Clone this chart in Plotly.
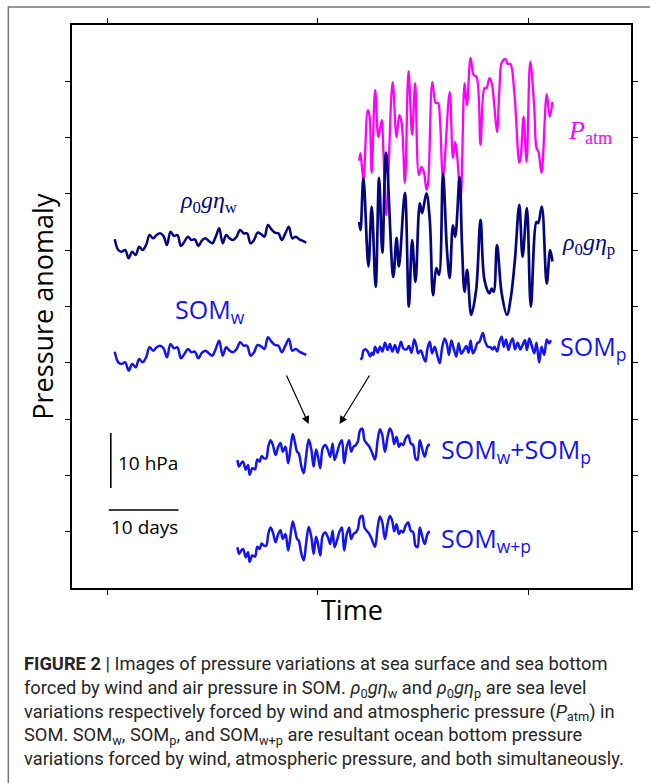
import numpy as np
import plotly.graph_objects as go

# ---------------- data (time in days, anomaly in hPa) ----------------
# rho0*g*eta_w  (uniform half-day sampling)
eta_w_vals = [0.12, -1.82, -2.12, -1.82, -3.33, -2.12, -2.73, -1.21, -1.82, -0.91,
              0.91, 0.30, 0.91, 1.21, 0.73, -0.91, 1.52, 0.73, 0.91, -1.09,
              -0.30, 0.61, 0.0, 0.12, -1.09, -0.12, 0.30, -0.18, -0.61, 0.61,
              2.12, -0.61, 0.91, 0.30, 0.0, 0.61, 1.82, 1.21, 1.21, -0.61,
              0.0, 1.33, 1.09, 0.61, 2.73, 1.94, 1.33, 1.21, 0.0, 1.21,
              2.42, 0.30, 0.61, 0.12, -0.18, -0.48]
som_w_vals = list(eta_w_vals)

patm_t = [0.00, 0.19, 0.61, 1.23, 1.47, 1.80, 2.29, 2.76, 3.23, 3.47,
          3.90, 4.80, 5.37, 5.76, 6.09, 6.57, 7.09, 7.61, 8.04, 8.57,
          8.94, 9.33, 9.66, 9.90, 10.51, 11.00, 11.33, 11.61, 12.04, 13.00,
          13.47, 13.80, 14.09, 14.57, 15.14, 15.47, 16.00, 16.43, 16.86, 17.43,
          18.00, 18.29, 18.71, 19.04, 19.43, 19.80, 20.14, 20.47, 21.00, 21.33,
          21.71, 22.29, 23.00, 23.23, 23.61, 24.04, 24.57, 25.14, 25.47, 25.76,
          26.19, 26.94, 27.37, 27.76]
patm_v = [-6.5, -5.1, -10.0, 2.7, 1.8, -8.7, 6.4, -2.2, 0.9, -4.5,
          -16.4, 7.8, -2.2, 1.8, 0.5, -10.5, 9.8, -1.8, 7.6, -9.1,
          -7.6, -8.7, -11.8, -10.5, 7.8, 4.0, 4.0, 0.9, -9.6, 6.0,
          -6.0, -3.1, -5.8, -13.6, 7.6, 3.6, 12.2, 9.1, 8.7, -3.6,
          6.7, 6.7, 8.5, 7.6, 3.3, -1.3, 6.4, 11.3, 12.0, 11.1,
          11.1, 5.8, -6.9, -5.5, 1.5, -6.7, 11.5, 3.3, -4.2, -4.9,
          -8.7, 5.6, 1.5, 4.2]

eta_p_t = [0.00, 0.19, 0.61, 1.33, 1.80, 2.37, 2.86, 3.33, 3.86, 4.90,
           5.37, 5.71, 6.57, 7.14, 7.61, 8.09, 8.71, 9.04, 9.66, 10.14,
           10.61, 11.09, 11.47, 12.04, 12.61, 13.00, 13.47, 13.80, 14.43, 14.76,
           15.14, 15.51, 16.09, 16.80, 17.43, 18.00, 18.71, 19.04, 19.33, 19.80,
           20.47, 21.23, 21.80, 22.37, 23.00, 23.47, 24.09, 24.66, 25.47, 25.71,
           26.23, 26.94, 27.43, 27.76]
eta_p_v = [5.1, 3.6, 13.1, -3.0, 7.9, -6.7, 13.1, -0.5, 17.7, -4.9,
           2.2, -3.0, 10.4, -10.3, 1.8, -5.8, 8.5, 6.7, 10.3, 5.5,
           -8.2, -3.3, -4.5, 13.9, 0.0, -5.1, 4.5, 2.4, 13.3, 1.2,
           -7.6, -3.6, -11.8, -7.3, 5.5, -5.5, -7.9, -7.0, -7.6, 0.9,
           -7.9, -11.8, -8.5, -1.8, 8.2, -1.2, 7.6, -10.3, 5.1, 4.9,
           7.9, -6.1, 0.0, -2.1]

som_p_t = [0, 0.24, 0.48, 0.81, 1.10, 1.43, 1.67, 1.90, 2.14, 2.52,
           2.86, 3.19, 3.57, 3.95, 4.29, 4.62, 5.00, 5.38, 5.86, 6.19,
           6.67, 7.00, 7.38, 7.76, 8.10, 8.33, 8.71, 9.05, 9.38, 9.67,
           10.00, 10.33, 10.71, 11.05, 11.43, 11.76, 12.14, 12.48, 12.76, 13.10,
           13.43, 13.81, 14.14, 14.52, 14.86, 15.24, 15.57, 15.86, 16.19, 16.52,
           16.81, 17.14, 17.62, 17.95, 18.33, 18.71, 19.05, 19.29, 19.67, 20.00,
           20.33, 20.62, 20.95, 21.29, 21.57, 21.90, 22.24, 22.62, 23.00, 23.33,
           23.67, 23.95, 24.29, 24.62, 25.00, 25.33, 25.71, 26.05, 26.43, 26.81,
           27.14, 27.38]
som_p_v = [-2.0, -1.8, -0.4, -0.2, -0.6, -1.5, -0.8, -1.2, 0.3, -0.8,
           0.3, -0.6, 1.0, -0.3, 0.8, -0.6, 0.6, -0.8, 1.2, 0.0,
           -0.2, 0.4, -0.8, 1.6, 0.3, -0.9, -0.4, -1.5, -2.4, 0.0,
           1.2, -0.9, 0.3, -1.2, -2.7, 0.0, 1.8, 0.6, -1.2, 1.4,
           0.0, -1.5, 0.9, -1.0, -0.4, 0.4, -0.8, 1.4, -0.9, -0.2,
           0.9, 1.2, 2.8, 1.2, 0.3, 0.2, -0.2, 0.3, -0.6, 1.2,
           2.1, 0.3, 1.6, -0.3, 0.9, 1.8, -0.2, 1.0, -0.2, 0.6,
           1.5, -0.3, 1.8, 0.6, -0.9, 1.0, -2.6, 0.3, -1.2, 1.6,
           0.9, 1.5]

som_sum_t = [0, 0.24, 0.48, 0.81, 1.19, 1.52, 1.76, 2.14, 2.52, 2.86,
             3.19, 3.48, 3.81, 4.14, 4.43, 4.76, 5.10, 5.48, 5.86, 6.19,
             6.52, 6.90, 7.29, 7.62, 7.95, 8.24, 8.57, 8.81, 9.19, 9.52,
             9.86, 10.24, 10.62, 10.95, 11.29, 11.57, 11.90, 12.24, 12.62, 13.00,
             13.33, 13.67, 13.95, 14.29, 14.62, 15.00, 15.33, 15.71, 16.05, 16.33,
             16.67, 17.00, 17.29, 17.62, 17.95, 18.24, 18.57, 18.90, 19.29, 19.76,
             20.14, 20.48, 20.81, 21.19, 21.57, 21.90, 22.24, 22.52, 22.86, 23.19,
             23.48, 23.81, 24.14, 24.52, 24.90, 25.24, 25.57, 25.86, 26.19, 26.52,
             26.90, 27.29, 27.62]
som_sum_v = [-1.5, -2.7, -2.2, -1.8, -3.3, -2.4, -4.2, -3.0, -3.2, -1.4,
             -1.8, -0.8, -1.2, -1.2, 0.9, 2.1, 1.2, -0.6, 0.9, 1.6,
             0.0, 0.9, -2.1, 0.6, 3.2, 1.8, 0.0, -0.3, -2.7, -3.9,
             -0.9, 2.2, 0.3, -2.7, 0.4, -0.9, -3.0, 0.6, 1.2, 0.3,
             -0.9, 1.5, -1.5, -0.3, 1.2, 2.1, -2.1, 0.9, 2.1, 0.0,
             0.9, 1.2, 1.8, 3.9, 4.2, 2.1, 1.5, 1.0, 0.0, -1.4,
             2.1, 4.1, 3.0, 0.0, 2.7, 4.2, 3.3, 1.4, 2.7, 0.9,
             1.5, 1.2, 2.4, 3.0, 1.5, 1.2, -1.2, -1.5, 2.1, 0.6,
             -0.9, 0.9, 1.4]
som_wp_t = list(som_sum_t)
som_wp_v = list(som_sum_v)

# ---------------- layout constants ----------------
W, H = 650, 783
L, R, T, B = 72, 634, 25, 588          # plot box in pixels
PX_DAY, PX_HPA = 7.0, 5.5               # 10 days = 70 px, 10 hPa = 55 px
XMAX = (R - L) / PX_DAY
YMAX = (B - T) / PX_HPA

NAVY = "#05057f"
BLUE = "#1414f0"
MAG = "#ff00ff"


def dx(px):
    return (px - L) / PX_DAY


def dy(py):
    return (B - py) / PX_HPA


fig = go.Figure()


def add_series(t, v, x0, base, color, width):
    t = np.asarray(t, float)
    v = np.asarray(v, float)
    fig.add_trace(go.Scatter(x=x0 + t, y=base + v, mode="lines",
                             line=dict(color=color, width=width, shape="spline", smoothing=1.0),
                             hoverinfo="skip", showlegend=False))


t_half = 0.5 * np.arange(len(eta_w_vals))
add_series(t_half, eta_w_vals, dx(115), dy(240), NAVY, 2.5)
add_series(t_half, som_w_vals, dx(115), dy(352.3), BLUE, 2.5)
add_series(patm_t, patm_v, dx(360.7), dy(125), MAG, 2.3)
add_series(eta_p_t, eta_p_v, dx(360.7), dy(250), NAVY, 2.7)
add_series(som_p_t, som_p_v, dx(361.7), dy(348.3), BLUE, 2.5)
add_series(som_sum_t, som_sum_v, dx(238.3), dy(451.7), BLUE, 2.5)
add_series(som_wp_t, som_wp_v, dx(238.3), dy(539), BLUE, 2.5)

ann = []
SERIF = "Liberation Serif, Times New Roman, serif"
SANS = "Open Sans, sans-serif"


def label(px, py, text, color, size, family, xanchor="left"):
    ann.append(dict(x=dx(px), y=dy(py), xref="x", yref="y", text=text, showarrow=False,
                    xanchor=xanchor, yanchor="middle",
                    font=dict(color=color, size=size, family=family)))


label(210, 202, "<i>ρ</i><sub>0</sub><i>gη</i><sub>w</sub>", NAVY, 24, SERIF, "center")
label(211, 310, "SOM<sub>w</sub>", BLUE, 25, SANS, "center")
label(569, 132, "<i>P</i><sub>atm</sub>", MAG, 26, SERIF)
label(563, 244, "<i>ρ</i><sub>0</sub><i>gη</i><sub>p</sub>", NAVY, 24, SERIF)
label(561, 347, "SOM<sub>p</sub>", BLUE, 25, SANS)
label(441, 450, "SOM<sub>w</sub>+SOM<sub>p</sub>", BLUE, 25, SANS)
label(441, 539, "SOM<sub>w+p</sub>", BLUE, 25, SANS)
label(116, 463, "10 hPa", "black", 19, SANS)
label(109, 527, "10 days", "black", 19, SANS)

# arrows
for (tx, ty, hx, hy) in [(287, 374, 310, 424), (372, 374, 341, 424)]:
    ann.append(dict(x=dx(hx), y=dy(hy), ax=dx(tx), ay=dy(ty), xref="x", yref="y",
                    axref="x", ayref="y", showarrow=True, arrowhead=2, arrowsize=1.3,
                    arrowwidth=1.2, arrowcolor="black", text=""))

# axis titles
ann.append(dict(x=(42 - L) / (R - L), y=0.5, xref="paper", yref="paper", text="Pressure anomaly",
                showarrow=False, textangle=-90, xanchor="center", yanchor="middle",
                font=dict(size=27, family=SANS, color="black")))
ann.append(dict(x=0.5, y=(B - 609) / (B - T), xref="paper", yref="paper", text="Time",
                showarrow=False, xanchor="center", yanchor="middle",
                font=dict(size=27, family=SANS, color="black")))

caption = ("<b>FIGURE 2</b> | Images of pressure variations at sea surface and sea bottom<br>"
           "forced by wind and air pressure in SOM. <i>ρ</i><sub>0</sub><i>gη</i><sub>w</sub> and "
           "<i>ρ</i><sub>0</sub><i>gη</i><sub>p</sub> are sea level<br>"
           "variations respectively forced by wind and atmospheric pressure (<i>P</i><sub>atm</sub>) in<br>"
           "SOM. SOM<sub>w</sub>, SOM<sub>p</sub>, and SOM<sub>w+p</sub> are resultant ocean bottom pressure<br>"
           "variations forced by wind, atmospheric pressure, and both simultaneously.")
ann.append(dict(x=(22 - L) / (R - L), y=(B - 651) / (B - T), xref="paper", yref="paper",
                text=caption, showarrow=False, xanchor="left", yanchor="top", align="left",
                font=dict(size=18.3, family="Roboto, Liberation Sans, sans-serif", color="#262626")))

shapes = [
    # scale bars
    dict(type="line", xref="x", yref="y", x0=dx(111), x1=dx(111), y0=dy(488), y1=dy(433),
         line=dict(color="black", width=1.6)),
    dict(type="line", xref="x", yref="y", x0=dx(109), x1=dx(179), y0=dy(510), y1=dy(510),
         line=dict(color="black", width=1.6)),
    # outer frame
    dict(type="rect", xref="paper", yref="paper", x0=(8 - L) / (R - L), x1=(660 - L) / (R - L),
         y0=(B - 800) / (B - T), y1=(B - 7) / (B - T), line=dict(color="#777777", width=1.5),
         layer="below"),
]

y_ticks = list(np.linspace(0, YMAX, 11)[1:-1])
x_ticks = [dx(107.5), dx(319), dx(531)]

fig.update_layout(
    width=W, height=H, margin=dict(l=L, r=W - R, t=T, b=H - B),
    paper_bgcolor="white", plot_bgcolor="white",
    annotations=ann, shapes=shapes,
    xaxis=dict(range=[0, XMAX], showgrid=False, zeroline=False, showline=True, linecolor="black",
               linewidth=2, mirror="allticks", ticks="outside", ticklen=5, tickwidth=1,
               tickcolor="black", tickvals=x_ticks, showticklabels=False, fixedrange=True),
    yaxis=dict(range=[0, YMAX], showgrid=False, zeroline=False, showline=True, linecolor="black",
               linewidth=2, mirror="allticks", ticks="outside", ticklen=5, tickwidth=1,
               tickcolor="black", tickvals=y_ticks, showticklabels=False, fixedrange=True),
)

fig.write_html("out.html")
